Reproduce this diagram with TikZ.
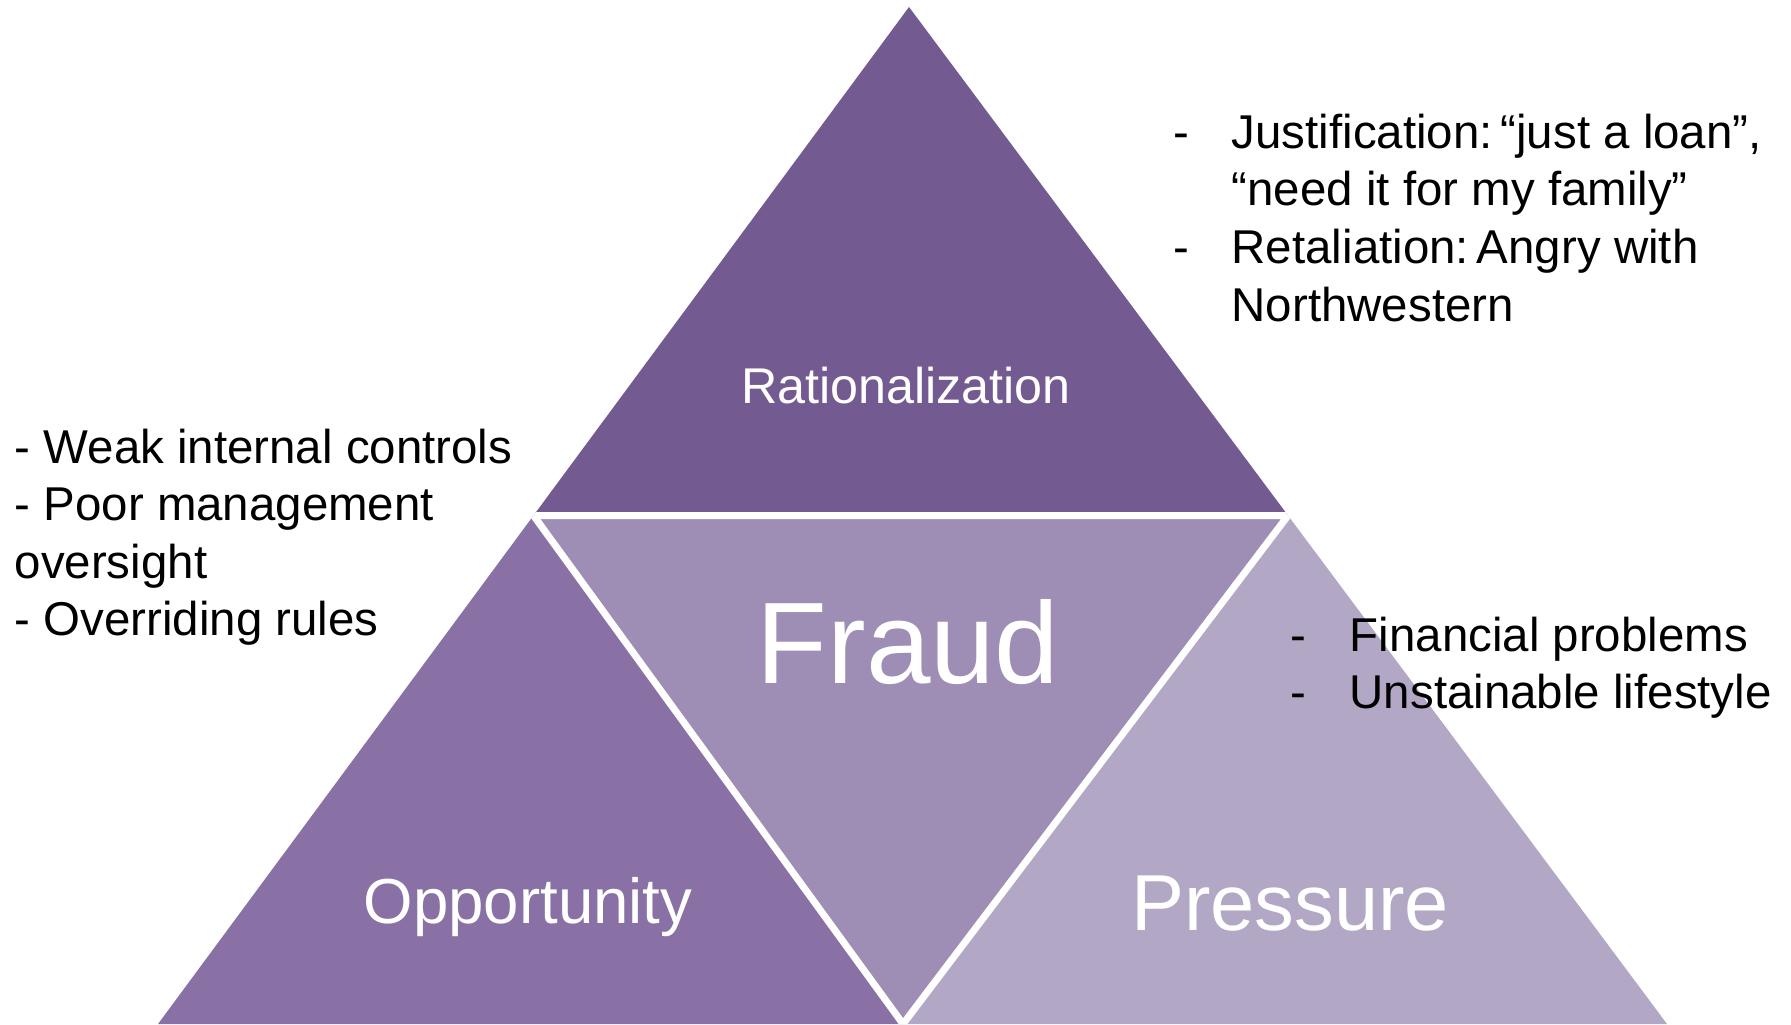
\documentclass[tikz,border=0pt]{standalone}
\usepackage{fontspec}
\setmainfont{Liberation Sans}
\usetikzlibrary{positioning}

\definecolor{ratfill}{RGB}{115,91,145}
\definecolor{oppfill}{RGB}{137,113,166}
\definecolor{fraudfill}{RGB}{158,141,180}
\definecolor{presfill}{RGB}{178,168,198}

\tikzset{
  label/.style={inner sep=0pt,anchor=base,text=white},
  point/.style={inner sep=0pt,anchor=base west,text=black,
    font=\fontsize{13.5}{16.4}\selectfont},
  gap/.style={draw=white,line width=0.07cm,line join=bevel}
}

\begin{document}
\begin{tikzpicture}
    \useasboundingbox (0,0) rectangle (17.91,10.24);

    % corners of the big triangle and the mid points of its sides
    \coordinate (top) at (9.09,10.17);
    \coordinate (bl) at (1.58,0);
    \coordinate (br) at (16.67,0);
    \coordinate (lm) at (5.335,5.085);
    \coordinate (rm) at (12.88,5.085);
    \coordinate (bm) at (9.03,0);

    % the four parts
    \fill[ratfill] (top) -- (lm) -- (rm) -- cycle;
    \fill[oppfill] (lm) -- (bl) -- (bm) -- cycle;
    \fill[presfill] (rm) -- (bm) -- (br) -- cycle;
    \fill[fraudfill] (lm) -- (rm) -- (bm) -- cycle;
    \begin{scope}
    \clip (top) -- (bl) -- (br) -- cycle;
    \draw[gap] (lm) -- (rm) -- (bm) -- cycle;
    \end{scope}

    % names of the parts
    \node[label,font=\fontsize{14.3}{17}\selectfont] (rat) at (9.06,6.21) {Rationalization};
    \node[label,font=\fontsize{33}{40}\selectfont] (fraud) at (9.08,3.41) {Fraud};
    \node[label,font=\fontsize{18.1}{22}\selectfont] (opp) at (5.28,1.01) {Opportunity};
    \node[label,font=\fontsize{22.6}{27}\selectfont] (pres) at (12.90,0.94) {Pressure};

    % opportunity notes
    \node[point] (opp1) at (0.14,5.61) {- Weak internal controls};
    \node[point] (opp2) at (0.14,5.035) {- Poor management};
    \node[point] (opp3) at (0.14,4.46) {oversight};
    \node[point] (opp4) at (0.14,3.885) {- Overriding rules};

    % rationalization notes
    \node[point] (ratd1) at (11.73,8.755) {-};
    \node[point] (rat1) at (12.31,8.755) {Justification:\,“just a loan”,};
    \node[point] (rat2) at (12.31,8.18) {“need it for my family”};
    \node[point] (ratd2) at (11.73,7.605) {-};
    \node[point] (rat3) at (12.31,7.605) {Retaliation:\,Angry with};
    \node[point] (rat4) at (12.31,7.03) {Northwestern};

    % pressure notes
    \node[point] (presd1) at (12.90,3.73) {-};
    \node[point] (pres1) at (13.49,3.73) {Financial problems};
    \node[point] (presd2) at (12.90,3.16) {-};
    \node[point] (pres2) at (13.49,3.16) {Unstainable lifestyle};
\end{tikzpicture}
\end{document}
